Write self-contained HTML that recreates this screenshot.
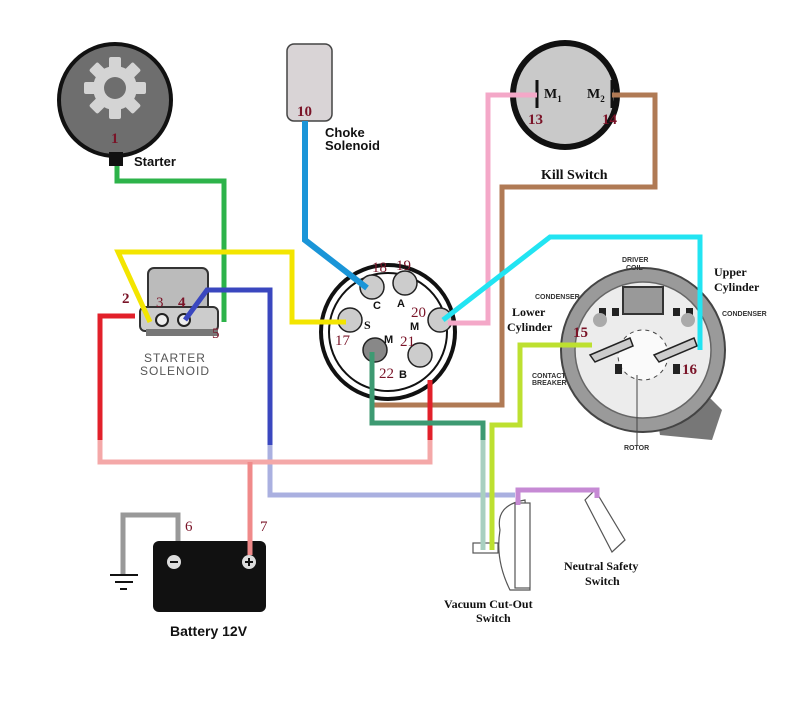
<!DOCTYPE html>
<html><head><meta charset="utf-8"><style>
html,body{margin:0;padding:0;background:#fff;}
svg{display:block;}
.n{font-family:"Liberation Serif",serif;fill:#7a1428;font-size:15px;}
.b{font-family:"Liberation Sans",sans-serif;font-weight:bold;fill:#111;}
.s{font-family:"Liberation Serif",serif;font-weight:bold;fill:#111;}
.sm{font-family:"Liberation Sans",sans-serif;font-weight:bold;fill:#333;font-size:7px;}
</style></head><body>
<svg width="807" height="711" viewBox="0 0 807 711" xmlns="http://www.w3.org/2000/svg">
<rect width="807" height="711" fill="#fff"/>

<!-- Distributor -->
<g>
<path d="M655 405 L710 398 L722 410 L712 440 L660 435 Z" fill="#777"/>
<circle cx="643" cy="350" r="82" fill="#9a9a9a" stroke="#444" stroke-width="2"/>
<circle cx="643" cy="350" r="68" fill="#ececec" stroke="#666" stroke-width="1.5"/>
<circle cx="643" cy="355" r="25" fill="#fafafa" stroke="#444" stroke-width="1" stroke-dasharray="4 4"/>
<rect x="623" y="287" width="40" height="27" fill="#999" stroke="#333" stroke-width="2"/>
<rect x="599" y="308" width="7" height="8" fill="#222"/><rect x="612" y="308" width="7" height="8" fill="#222"/>
<rect x="673" y="308" width="7" height="8" fill="#222"/><rect x="686" y="308" width="7" height="8" fill="#222"/>
<circle cx="600" cy="320" r="7" fill="#aaa"/><circle cx="688" cy="320" r="7" fill="#aaa"/>
<path d="M590 355 L630 338 L633 346 L595 362 Z" fill="#ccc" stroke="#222" stroke-width="1.5"/>
<path d="M654 355 L694 338 L697 346 L659 362 Z" fill="#ccc" stroke="#222" stroke-width="1.5"/>
<rect x="615" y="364" width="7" height="10" fill="#222"/><rect x="673" y="364" width="7" height="10" fill="#222"/>
<line x1="637" y1="375" x2="637" y2="445" stroke="#444"/>
<text x="622" y="262" class="sm">DRIVER</text><text x="626" y="270" class="sm">COIL</text>
<text x="535" y="299" class="sm">CONDENSER</text>
<text x="722" y="316" class="sm">CONDENSER</text>
<text x="532" y="378" class="sm">CONTACT</text><text x="532" y="385" class="sm">BREAKER</text>
<text x="624" y="450" class="sm" fill="#999">ROTOR</text>
<text x="714" y="276" class="s" font-size="12">Upper</text>
<text x="714" y="291" class="s" font-size="12">Cylinder</text>
<text x="512" y="316" class="s" font-size="12">Lower</text>
<text x="507" y="331" class="s" font-size="12">Cylinder</text>
<text x="573" y="337" class="n" font-weight="bold" font-size="18">15</text>
<text x="682" y="374" class="n" font-weight="bold" font-size="18">16</text>
</g>

<!-- Starter motor -->
<circle cx="115" cy="100" r="56" fill="#6e6e6e" stroke="#111" stroke-width="4"/>
<g fill="#d4d4d4" transform="translate(115,88)">
<circle r="22"/>
<g id="t"><rect x="-6" y="-31" width="12" height="12" rx="2"/></g>
<use href="#t" transform="rotate(45)"/><use href="#t" transform="rotate(90)"/><use href="#t" transform="rotate(135)"/>
<use href="#t" transform="rotate(180)"/><use href="#t" transform="rotate(225)"/><use href="#t" transform="rotate(270)"/><use href="#t" transform="rotate(315)"/>
<circle r="11" fill="#6e6e6e"/>
</g>
<text x="111" y="143" class="n" font-weight="bold" font-size="15">1</text>
<rect x="109" y="152" width="14" height="14" fill="#111"/>
<text x="134" y="166" class="b" font-size="13">Starter</text>

<!-- Choke -->
<rect x="287" y="44" width="45" height="77" rx="7" fill="#d9d4d6" stroke="#444" stroke-width="1.5"/>
<text x="297" y="116" class="n" font-weight="bold" font-size="15">10</text>
<text x="325" y="137" class="b" font-size="13">Choke</text>
<text x="325" y="150" class="b" font-size="13">Solenoid</text>

<!-- Kill switch -->
<circle cx="565" cy="95" r="52" fill="#c9c9c9" stroke="#111" stroke-width="6"/>
<line x1="537" y1="80" x2="537" y2="108" stroke="#111" stroke-width="3"/>
<line x1="612" y1="80" x2="612" y2="108" stroke="#111" stroke-width="3"/>
<text x="544" y="98" class="s" font-size="14">M<tspan font-size="9" dy="4">1</tspan></text>
<text x="587" y="98" class="s" font-size="14">M<tspan font-size="9" dy="4">2</tspan></text>
<text x="528" y="124" class="n" font-weight="bold" font-size="15">13</text>
<text x="602" y="124" class="n" font-weight="bold" font-size="15">14</text>
<text x="541" y="179" class="s" font-size="14">Kill Switch</text>

<!-- Ignition switch -->
<circle cx="388" cy="332" r="67" fill="#fff" stroke="#111" stroke-width="4"/>
<circle cx="388" cy="332" r="59" fill="#fff" stroke="#111" stroke-width="2"/>
<g fill="#ccc" stroke="#222" stroke-width="1.5">
<circle cx="372" cy="287" r="12"/><circle cx="405" cy="283" r="12"/>
<circle cx="350" cy="320" r="12"/><circle cx="440" cy="320" r="12"/>
<circle cx="375" cy="350" r="12" fill="#888"/><circle cx="420" cy="355" r="12"/>
</g>
<text x="372" y="272" class="n" font-size="11">18</text><text x="396" y="270" class="n" font-size="11">19</text>
<text x="373" y="309" class="b" font-size="11">C</text><text x="397" y="307" class="b" font-size="11">A</text>
<text x="364" y="329" class="s" font-size="12">S</text><text x="335" y="345" class="n" font-size="11">17</text>
<text x="411" y="317" class="n" font-size="11">20</text><text x="410" y="330" class="b" font-size="11" fill="#666">M</text>
<text x="384" y="343" class="b" font-size="11">M</text><text x="400" y="346" class="n" font-size="11">21</text>
<text x="379" y="378" class="n" font-size="11">22</text><text x="399" y="378" class="b" font-size="11">B</text>

<!-- Starter solenoid -->
<rect x="148" y="268" width="60" height="44" rx="6" fill="#bbb" stroke="#333" stroke-width="2"/>
<rect x="140" y="307" width="78" height="24" rx="5" fill="#ccc" stroke="#333" stroke-width="2"/>
<rect x="146" y="329" width="72" height="7" fill="#777"/>
<circle cx="162" cy="320" r="6" fill="#eee" stroke="#222" stroke-width="2"/>
<circle cx="184" cy="320" r="6" fill="#eee" stroke="#222" stroke-width="2"/>
<text x="144" y="362" font-family="Liberation Sans,sans-serif" font-size="12" fill="#555" letter-spacing="1">STARTER</text>
<text x="140" y="375" font-family="Liberation Sans,sans-serif" font-size="12" fill="#555" letter-spacing="1">SOLENOID</text>
<text x="122" y="303" class="n" font-weight="bold" font-size="15">2</text>
<text x="156" y="307" class="n" font-size="14" fill="#a04050">3</text>
<text x="178" y="307" class="n" font-weight="bold" font-size="14">4</text>
<text x="212" y="338" class="n" font-size="14" fill="#a04050">5</text>

<!-- Battery -->
<rect x="153" y="541" width="113" height="71" rx="6" fill="#111"/>
<circle cx="174" cy="562" r="7" fill="#ddd"/><rect x="170" y="561" width="8" height="2" fill="#111"/>
<circle cx="249" cy="562" r="7" fill="#ddd"/><rect x="245" y="561" width="8" height="2" fill="#111"/><rect x="248" y="558" width="2" height="8" fill="#111"/>
<text x="185" y="531" class="n" font-size="15" fill="#c08a8a">6</text>
<text x="260" y="531" class="n" font-size="15" fill="#c08a8a">7</text>
<path d="M178 541 V515 H123 V575" fill="none" stroke="#999" stroke-width="5"/>
<line x1="110" y1="575" x2="138" y2="575" stroke="#111" stroke-width="2"/>
<line x1="115" y1="582" x2="133" y2="582" stroke="#111" stroke-width="2"/>
<line x1="120" y1="589" x2="127" y2="589" stroke="#111" stroke-width="2"/>
<text x="170" y="636" class="b" font-size="14">Battery  12V</text>

<!-- Vacuum & neutral switches -->
<g fill="#fff" stroke="#555" stroke-width="1.2">
<path d="M500 530 Q495 505 525 500 L530 590 L510 590 Q495 560 500 530 Z"/>
<rect x="515" y="503" width="15" height="85"/>
<rect x="473" y="543" width="25" height="10"/>
<path d="M585 500 L595 490 L625 540 L612 552 Z"/>
</g>
<text x="444" y="608" class="s" font-size="12">Vacuum Cut-Out</text>
<text x="476" y="622" class="s" font-size="12">Switch</text>
<text x="564" y="570" class="s" font-size="12">Neutral Safety</text>
<text x="585" y="585" class="s" font-size="12">Switch</text>

<!-- Wires -->
<g fill="none" stroke-width="5" stroke-linejoin="miter">
<path d="M117 166 V181 H224 V322" stroke="#2db34a"/>
<path d="M305 121 V240 L367 288" stroke="#1a95d8" stroke-width="6"/>
<path d="M537 95 H488 V323 H448" stroke="#f4a8c8"/>
<path d="M612 95 H655 V187 H502 V405 H372 V352" stroke="#b07a55"/>
<path d="M346 322 H292 V252 H118 L150 322" stroke="#f3e500"/>
<path d="M185 320 L207 290 H270 V445" stroke="#3a47bf"/>
<path d="M270 445 V495 H515" stroke="#aab0e0"/>
<path d="M135 316 H100 V440" stroke="#e2202a"/>
<path d="M100 440 V462 H430 V440" stroke="#f4a8a8"/>
<path d="M430 440 V380" stroke="#e2202a"/>
<path d="M250 462 V555" stroke="#f08a8a"/>
<path d="M372 352 V423 H483 V440" stroke="#3d9a72"/>
<path d="M483 440 V550" stroke="#a8d0c0"/>
<path d="M592 345 H520 V425 H492 V550" stroke="#bde030"/>
<path d="M443 320 L550 237 H700 V350" stroke="#22e4f2"/>
<path d="M518 505 V490 H597 V498" stroke="#c68ad4"/>
</g>
</svg>
</body></html>
